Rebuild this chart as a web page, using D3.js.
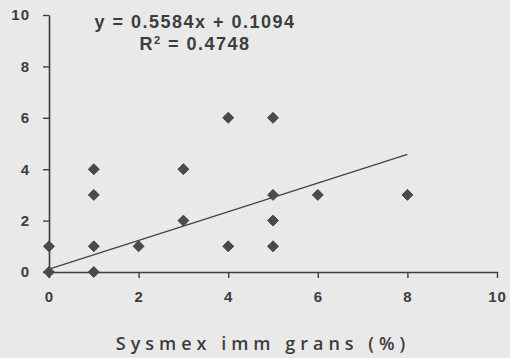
<!DOCTYPE html>
<html>
<head>
<meta charset="utf-8">
<script src="https://cdn.jsdelivr.net/npm/d3@7/dist/d3.min.js"></script>
<style>
  html, body { margin: 0; padding: 0; background: #e9e9e9; }
  svg { display: block; }
</style>
</head>
<body>
<svg id="chart" width="510" height="358"></svg>
<script>
// Sysmex immature granulocytes (%) vs. comparison count
const xValues = [0, 0, 1, 1, 1, 1, 2, 3, 3, 4, 4, 5, 5, 5, 5, 6, 8];
const yValues = [1, 0, 4, 3, 1, 0, 1, 4, 2, 6, 1, 6, 3, 2, 1, 3, 3];
const xTicks = [0, 2, 4, 6, 8, 10];
const yTicks = [0, 2, 4, 6, 8, 10];
const slope = 0.5584;
const intercept = 0.1094;
const rSquared = 0.4748;
const xTitle = "Sysmex imm grans (%)";

const svg = d3.select("#chart");
const ink = "#3d3d3d";

const x = d3.scaleLinear().domain([0, 10]).range([49, 497]);
const y = d3.scaleLinear().domain([0, 10]).range([272, 15]);

// axes
const xAxis = svg.append("g")
  .attr("transform", `translate(0,${y(0)})`)
  .call(d3.axisBottom(x).tickValues(xTicks).tickSize(6).tickPadding(13).tickSizeOuter(0));
const yAxis = svg.append("g")
  .attr("transform", `translate(${x(0)},0)`)
  .call(d3.axisLeft(y).tickValues(yTicks).tickSize(6).tickPadding(13).tickSizeOuter(0));

[xAxis, yAxis].forEach(g => {
  g.select(".domain").attr("stroke", ink).attr("stroke-width", 1.6);
  g.selectAll(".tick line").attr("stroke", ink).attr("stroke-width", 1.4);
  g.selectAll(".tick text")
    .attr("fill", ink)
    .style("font-family", "Liberation Sans, Arial, sans-serif")
    .style("font-size", "15px")
    .style("font-weight", "bold")
    .style("letter-spacing", "1px");
});
xAxis.selectAll(".tick text").attr("dy", "0.71em");

// trend line across the data range
const [xMin, xMax] = d3.extent(xValues);
svg.append("line")
  .attr("x1", x(xMin)).attr("y1", y(slope * xMin + intercept))
  .attr("x2", x(xMax)).attr("y2", y(slope * xMax + intercept))
  .attr("stroke", "#444").attr("stroke-width", 1.4);

// diamond markers
const diamond = d3.symbol().type(d3.symbolDiamond2).size(76);
svg.append("g")
  .selectAll("path")
  .data(xValues.map((v, i) => [v, yValues[i]]))
  .join("path")
  .attr("d", diamond)
  .attr("transform", d => `translate(${x(d[0])},${y(d[1])})`)
  .attr("fill", "#4a4a4a")
  .attr("stroke", "#444")
  .attr("stroke-width", 1);

// regression equation
const eq = svg.append("g")
  .attr("fill", ink)
  .style("font-family", "Liberation Sans, Arial, sans-serif")
  .style("font-size", "18px")
  .style("font-weight", "bold")
  .style("letter-spacing", "1.5px")
  .attr("text-anchor", "middle");
eq.append("text")
  .attr("x", 195).attr("y", 28)
  .text(`y = ${slope.toFixed(4)}x + ${intercept.toFixed(4)}`);
const r2 = eq.append("text").attr("x", 195).attr("y", 50);
r2.append("tspan").text("R");
r2.append("tspan").attr("dy", -6).style("font-size", "11px").text("2");
r2.append("tspan").attr("dy", 6).text(` = ${rSquared.toFixed(4)}`);

// x-axis title
svg.append("text")
  .attr("x", 263).attr("y", 350)
  .attr("text-anchor", "middle")
  .attr("fill", ink)
  .style("font-family", "Open Sans, DejaVu Sans, sans-serif")
  .style("font-size", "18px")
  .style("font-weight", "600")
  .style("letter-spacing", "5px")
  .text(xTitle);
</script>
</body>
</html>
